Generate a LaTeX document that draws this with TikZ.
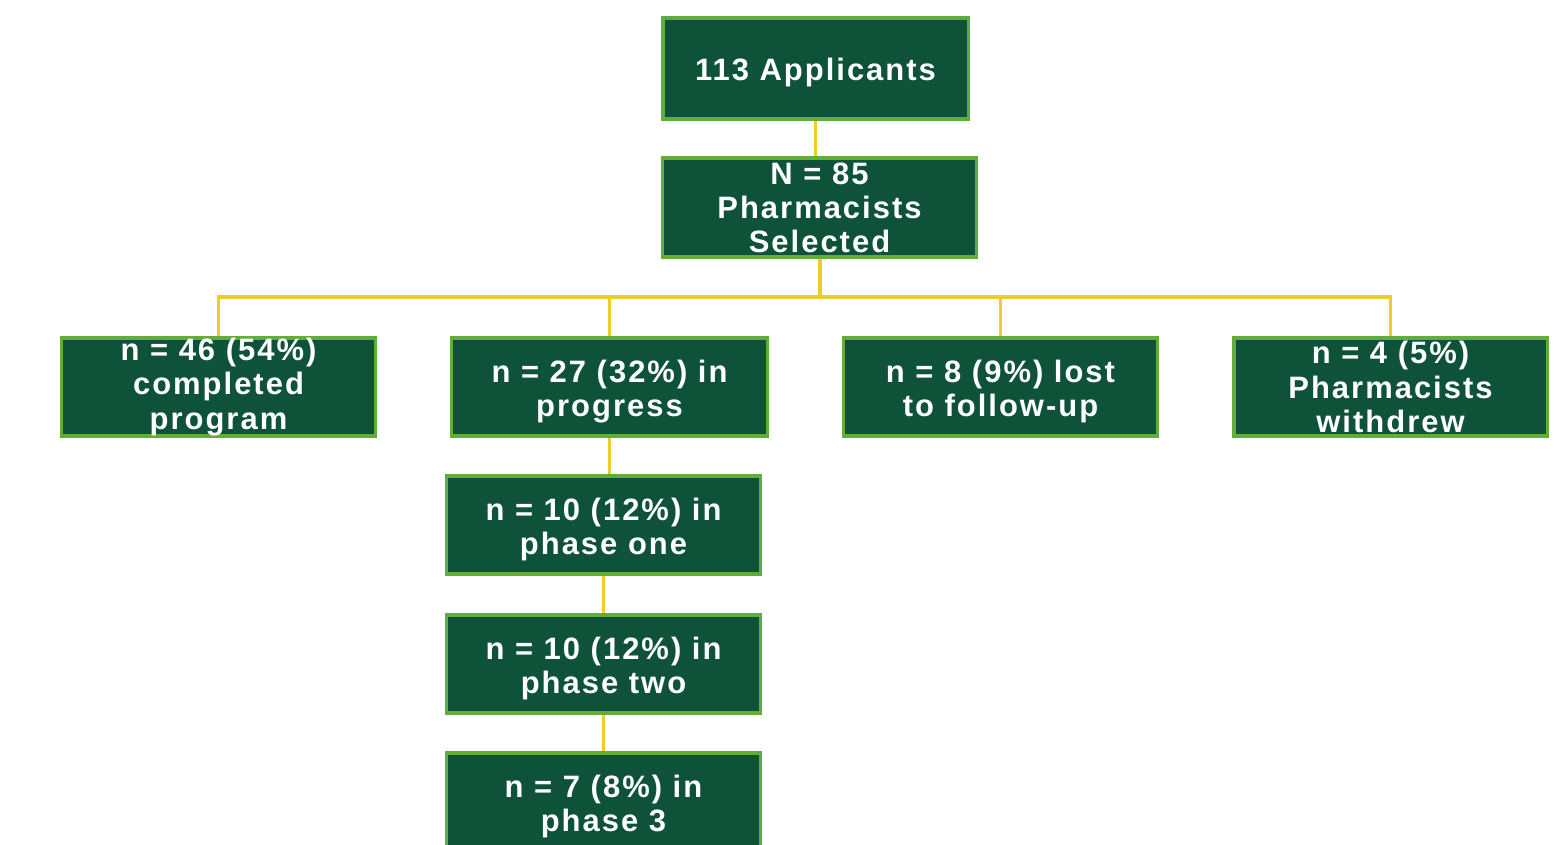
\documentclass[tikz,border=0pt]{standalone}
\usepackage{fontspec}
\setmainfont{Liberation Sans}
\newfontfamily\boxfont[LetterSpace=6.5]{Liberation Sans}
\usetikzlibrary{positioning}

\definecolor{boxgreen}{RGB}{14,82,58}
\definecolor{edgegreen}{RGB}{98,172,58}
\definecolor{linkyellow}{RGB}{240,204,40}

\tikzset{
  flowbox/.style={draw=edgegreen, line width=0.9pt, fill=boxgreen,
    text=white, align=center, inner sep=0pt,
    minimum width=3.13cm, minimum height=0.98cm,
    font=\boxfont\bfseries\fontsize{8.8pt}{9.7pt}\selectfont},
  lift/.style={execute at begin node=\rule{0pt}{#1}},
  link/.style={draw=linkyellow, line width=0.9pt}
}

\begin{document}
\begin{tikzpicture}[x=0.01cm, y=-0.01cm]
			%%%%% START %%%%%
			\useasboundingbox (0, 0) rectangle (1563, 844);
			
			\node[flowbox, lift=8.8pt, minimum width=3.05cm, minimum height=1.01cm] (app) at (815.5, 68.5) {113 Applicants};
			\node[flowbox, minimum height=0.99cm] (sel) at (819.5, 207.5) {N = 85\\Pharmacists\\Selected};
			
			\node[flowbox] (done) at (218.5, 387) {n = 46 (54\%)\\completed\\program};
			\node[flowbox, lift=18.6pt, minimum width=3.15cm] (prog) at (609.5, 387) {n = 27 (32\%) in\\progress};
			\node[flowbox, lift=18.6pt] (lost) at (1000.5, 387) {n = 8 (9\%) lost\\to follow-up};
			\node[flowbox] (wdrw) at (1390.5, 387) {n = 4 (5\%)\\Pharmacists\\withdrew};
			
			\node[flowbox, lift=18.6pt] (one) at (603.5, 525) {n = 10 (12\%) in\\phase one};
			\node[flowbox, lift=18.6pt] (two) at (603.5, 664) {n = 10 (12\%) in\\phase two};
			\node[flowbox, lift=18.6pt] (three) at (603.5, 802) {n = 7 (8\%) in\\phase 3};
			
			\coordinate (hub) at (820, 297);
			
			\draw[link] (app.south) -- (app.south |- sel.north);
			\draw[link] (hub |- sel.south) -- (hub);
			\draw[link] (done.north) |- (hub) -| (wdrw.north);
			\draw[link] (prog.north) -- (prog.north |- hub);
			\draw[link] (lost.north) -- (lost.north |- hub);
			
			\draw[link] (prog.south) -- (prog.south |- one.north);
			\draw[link] (one.south) -- (two.north);
			\draw[link] (two.south) -- (three.north);
			%%%%% END %%%%%
\end{tikzpicture}
\end{document}
